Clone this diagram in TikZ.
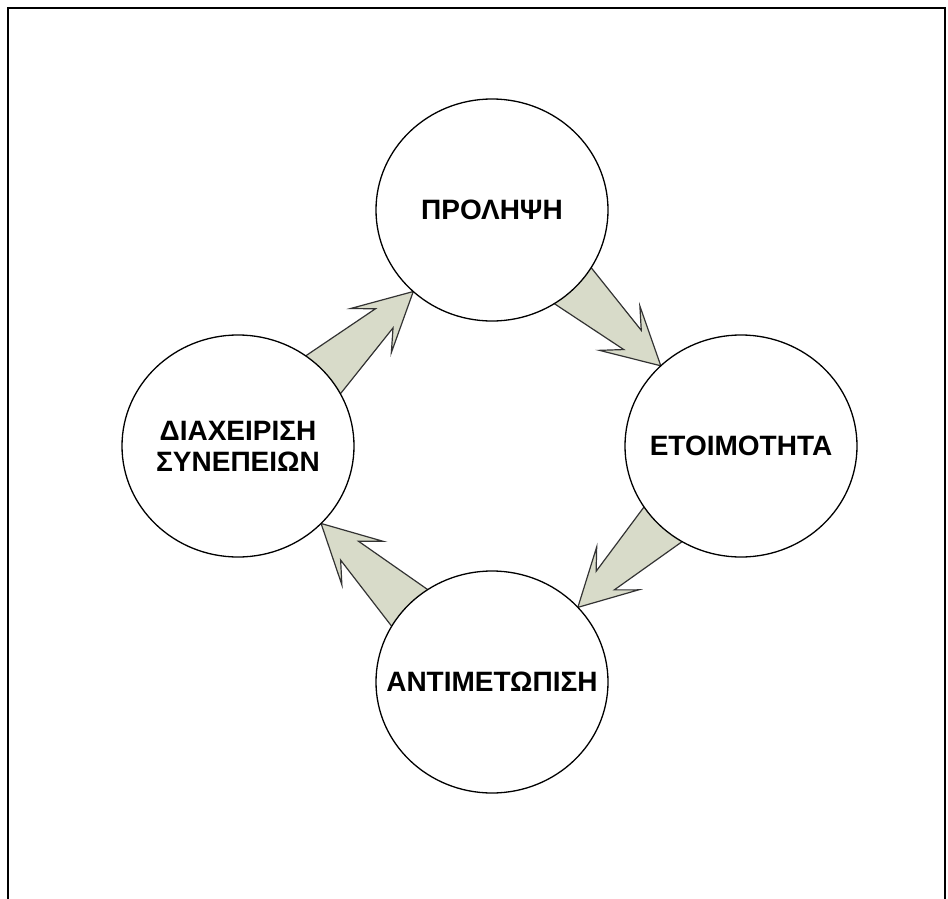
\documentclass[tikz,border=0pt]{standalone}
\usepackage{fontspec}
\setmainfont{Liberation Sans}
\usetikzlibrary{shapes.geometric,calc,backgrounds}

\definecolor{arrowfill}{RGB}{216,219,201}

% block arrow from #1 (tail) to #2 (tip)
\newcommand{\cyclearrow}[2]{%
\draw[flow] ($(#1)!-0.15!(#2)!28pt!90:(#2)$)
 -- ($(#1)!0.67!(#2)!13pt!90:(#2)$)
 -- ($(#1)!0.52!(#2)!30pt!90:(#2)$)
 -- (#2)
 -- ($(#1)!0.52!(#2)!30pt!-90:(#2)$)
 -- ($(#1)!0.67!(#2)!13pt!-90:(#2)$)
 -- ($(#1)!-0.15!(#2)!28pt!-90:(#2)$)
 -- cycle;}

\begin{document}
\begin{tikzpicture}[x=1pt,y=-1pt]
\tikzstyle{phase}=[draw,ellipse,fill=white,line width=1.3pt,minimum width=232pt,minimum height=222pt,inner sep=-45pt,outer sep=0pt,align=center,font=\fontsize{28}{31}\selectfont\bfseries]
\tikzstyle{flow}=[draw=black!80,fill=arrowfill,line width=1.2pt,line join=miter]

\useasboundingbox (0,0) rectangle (948,899);
\draw[line width=2.8pt] (8,899) -- (8,8) -- (945,8) -- (945,899);

\node[phase] (prolipsi) at (492,210) {ΠΡΟΛΗΨΗ};
\node[phase] (etoimotita) at (741,446) {ΕΤΟΙΜΟΤΗΤΑ};
\node[phase] (antimetopisi) at (492,682) {ΑΝΤΙΜΕΤΩΠΙΣΗ};
\node[phase] (diaxeirisi) at (238,446) {ΔΙΑΧΕΙΡΙΣΗ\\ΣΥΝΕΠΕΙΩΝ};

\begin{scope}[on background layer]
\cyclearrow{diaxeirisi.40.6}{prolipsi.226.4}
\cyclearrow{prolipsi.317}{etoimotita.135.4}
\cyclearrow{etoimotita.225.7}{antimetopisi.41}
\cyclearrow{antimetopisi.138.8}{diaxeirisi.317}
\end{scope}
\end{tikzpicture}
\end{document}
